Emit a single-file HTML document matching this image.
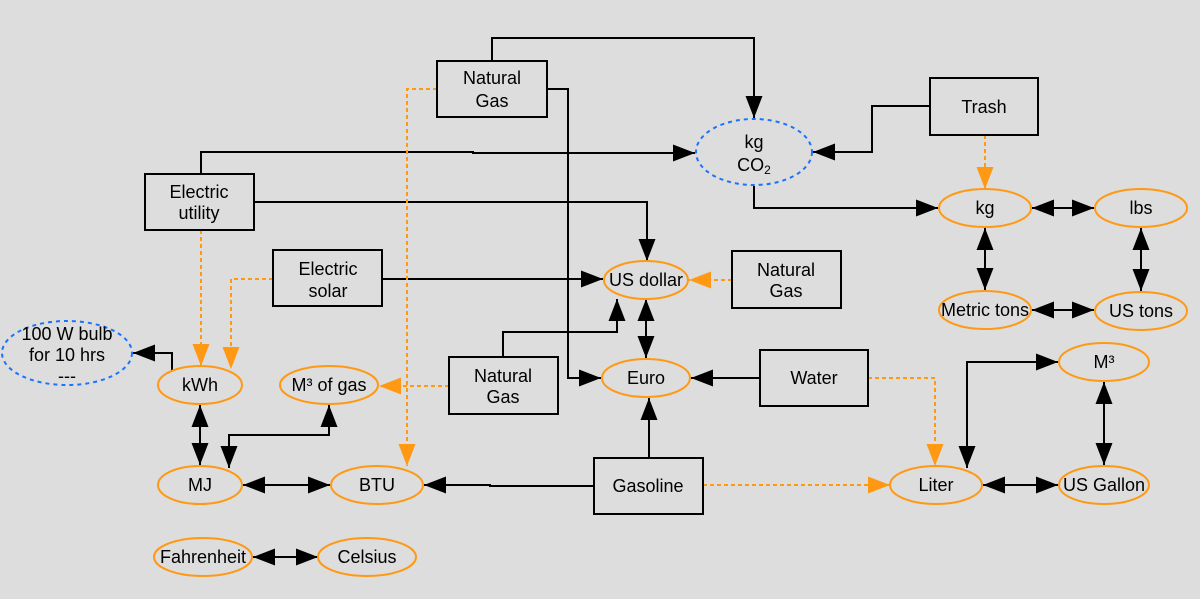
<!DOCTYPE html>
<html><head><meta charset="utf-8"><style>
html,body{margin:0;padding:0;background:#dddddd;}
svg{display:block;}
text{font-family:"Liberation Sans",sans-serif;font-size:18px;fill:#000;}
</style></head><body>
<svg width="1200" height="599" viewBox="0 0 1200 599" xmlns="http://www.w3.org/2000/svg">
<defs>
<marker id="a" markerUnits="userSpaceOnUse" markerWidth="24" markerHeight="18" refX="22" refY="8.5" orient="auto-start-reverse"><path d="M0,0 L22,8.5 L0,17 Z" fill="#000"/></marker>
<marker id="o" markerUnits="userSpaceOnUse" markerWidth="24" markerHeight="18" refX="22" refY="8.5" orient="auto-start-reverse"><path d="M0,0 L22,8.5 L0,17 Z" fill="#ff9914"/></marker>
</defs>
<rect x="1" y="0" width="1199" height="599" fill="#dddddd"/>
<g fill="none" stroke="#000" stroke-width="2">
<path d="M492,61 V38 H754 V118" marker-end="url(#a)"/>
<path d="M547,89 H568 V378 H601" marker-end="url(#a)"/>
<path d="M201,174 V152 H473 V153 H695" marker-end="url(#a)"/>
<path d="M254,202 H647 V261" marker-end="url(#a)"/>
<path d="M382,279 H603" marker-end="url(#a)"/>
<path d="M172,371 V353 H133" marker-end="url(#a)"/>
<path d="M200,405 V465" marker-start="url(#a)" marker-end="url(#a)"/>
<path d="M229,468 V435 H329 V405" marker-start="url(#a)" marker-end="url(#a)"/>
<path d="M243,485 H330" marker-start="url(#a)" marker-end="url(#a)"/>
<path d="M594,486 H490 V485 H424" marker-end="url(#a)"/>
<path d="M649,458 V398" marker-end="url(#a)"/>
<path d="M503,357 V332 H617 V299" marker-end="url(#a)"/>
<path d="M646,299 V358" marker-start="url(#a)" marker-end="url(#a)"/>
<path d="M760,378 H691" marker-end="url(#a)"/>
<path d="M930,106 H872 V152 H813" marker-end="url(#a)"/>
<path d="M754,186 V208 H938" marker-end="url(#a)"/>
<path d="M1032,208 H1094" marker-start="url(#a)" marker-end="url(#a)"/>
<path d="M985,228 V290" marker-start="url(#a)" marker-end="url(#a)"/>
<path d="M1141,228 V291" marker-start="url(#a)" marker-end="url(#a)"/>
<path d="M1032,310 H1094" marker-start="url(#a)" marker-end="url(#a)"/>
<path d="M967,468 V362 H1058" marker-start="url(#a)" marker-end="url(#a)"/>
<path d="M1104,382 V465" marker-start="url(#a)" marker-end="url(#a)"/>
<path d="M983,485 H1058" marker-start="url(#a)" marker-end="url(#a)"/>
<path d="M253,557 H318" marker-start="url(#a)" marker-end="url(#a)"/>
</g>
<g fill="none" stroke="#ff9914" stroke-width="2" stroke-dasharray="4,3">
<path d="M437,89 H407 V466" marker-end="url(#o)"/>
<path d="M201,230 V366" marker-end="url(#o)"/>
<path d="M273,279 H231 V369" marker-end="url(#o)"/>
<path d="M449,386 H379" marker-end="url(#o)"/>
<path d="M732,280 H689" marker-end="url(#o)"/>
<path d="M868,378 H935 V466" marker-end="url(#o)"/>
<path d="M985,135 V189" marker-end="url(#o)"/>
<path d="M703,485 H890" marker-end="url(#o)"/>
</g>
<g fill="none" stroke="#000" stroke-width="2">
<rect x="437" y="61" width="110" height="56"/>
<rect x="145" y="174" width="109" height="56"/>
<rect x="273" y="250" width="109" height="56"/>
<rect x="449" y="357" width="109" height="57"/>
<rect x="732" y="251" width="109" height="57"/>
<rect x="930" y="78" width="108" height="57"/>
<rect x="760" y="350" width="108" height="56"/>
<rect x="594" y="458" width="109" height="56"/>
</g>
<g fill="none" stroke="#1a73ff" stroke-width="2" stroke-dasharray="4,4">
<ellipse cx="754" cy="152" rx="58" ry="33"/>
<ellipse cx="67" cy="353" rx="65" ry="32"/>
</g>
<g fill="none" stroke="#ff9914" stroke-width="2">
<ellipse cx="200" cy="385" rx="42" ry="19"/>
<ellipse cx="329" cy="385" rx="49" ry="19"/>
<ellipse cx="200" cy="485" rx="42" ry="19"/>
<ellipse cx="377" cy="485" rx="46" ry="19"/>
<ellipse cx="203" cy="557" rx="49" ry="19"/>
<ellipse cx="367" cy="557" rx="49" ry="19"/>
<ellipse cx="646" cy="280" rx="42" ry="19"/>
<ellipse cx="646" cy="378" rx="44" ry="19"/>
<ellipse cx="985" cy="208" rx="46" ry="19"/>
<ellipse cx="1141" cy="208" rx="46" ry="19"/>
<ellipse cx="985" cy="310" rx="46" ry="19"/>
<ellipse cx="1141" cy="311" rx="46" ry="19"/>
<ellipse cx="1104" cy="362" rx="45" ry="19"/>
<ellipse cx="936" cy="485" rx="46" ry="19"/>
<ellipse cx="1104" cy="485" rx="45" ry="19"/>
</g>
<g text-anchor="middle">
<text x="492" y="84">Natural</text><text x="492" y="107">Gas</text>
<text x="199" y="198">Electric</text><text x="199" y="219">utility</text>
<text x="328" y="275">Electric</text><text x="328" y="297">solar</text>
<text x="503" y="382">Natural</text><text x="503" y="403">Gas</text>
<text x="786" y="276">Natural</text><text x="786" y="297">Gas</text>
<text x="984" y="113">Trash</text>
<text x="814" y="384">Water</text>
<text x="648" y="492">Gasoline</text>
<text x="754" y="148">kg</text><text x="754" y="171">CO<tspan font-size="12" dy="3">2</tspan></text>
<text x="67" y="340">100 W bulb</text><text x="67" y="361">for 10 hrs</text><text x="67" y="382">---</text>
<text x="200" y="391">kWh</text>
<text x="329" y="391">M³ of gas</text>
<text x="200" y="491">MJ</text>
<text x="377" y="491">BTU</text>
<text x="203" y="563">Fahrenheit</text>
<text x="367" y="563">Celsius</text>
<text x="646" y="286">US dollar</text>
<text x="646" y="384">Euro</text>
<text x="985" y="214">kg</text>
<text x="1141" y="214">lbs</text>
<text x="985" y="316">Metric tons</text>
<text x="1141" y="317">US tons</text>
<text x="1104" y="368">M³</text>
<text x="936" y="491">Liter</text>
<text x="1104" y="491">US Gallon</text>
</g>
</svg>
</body></html>
